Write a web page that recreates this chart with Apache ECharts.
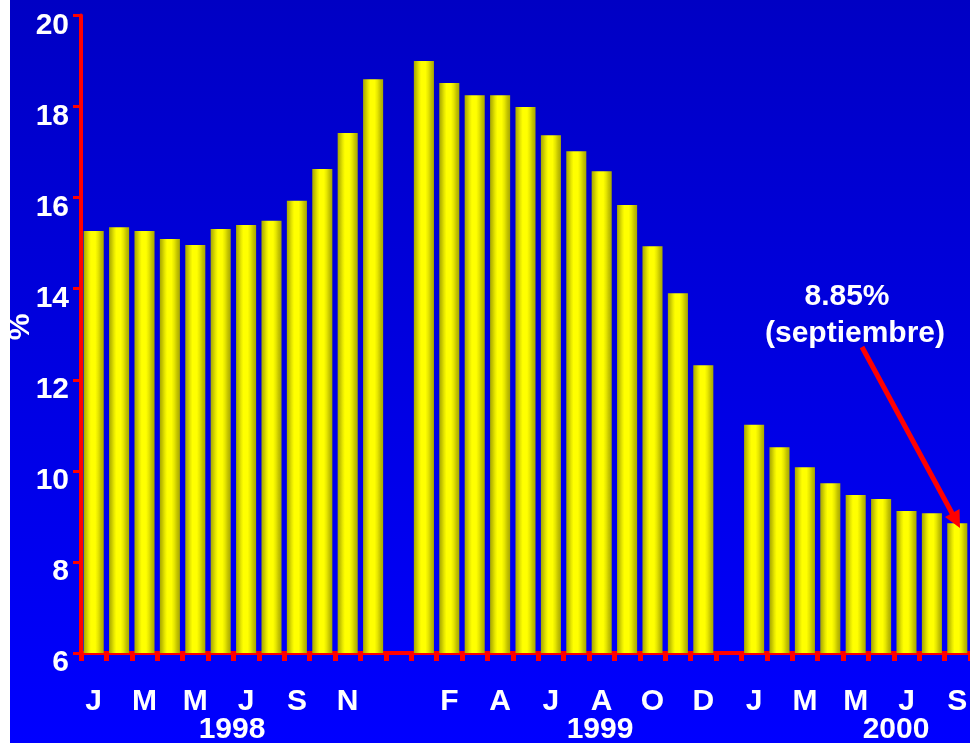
<!DOCTYPE html>
<html>
<head>
<meta charset="utf-8">
<script src="https://cdn.jsdelivr.net/npm/echarts@6/dist/echarts.min.js"></script>
<style>
html,body{margin:0;padding:0;background:#fff;}
#chart{width:970px;height:743px;}
</style>
</head>
<body>
<div id="chart"></div>
<script>
// Data
var values1998 = [15.27, 15.35, 15.27, 15.09, 14.96, 15.31, 15.40, 15.49, 15.93, 16.63, 17.42, 18.60];
var values1999 = [19.00, 18.52, 18.25, 18.25, 17.99, 17.37, 17.02, 16.58, 15.84, 14.93, 13.90, 12.32];
var values2000 = [11.01, 10.52, 10.08, 9.73, 9.47, 9.38, 9.12, 9.07, 8.85];
var months = ['J','F','M','A','M','J','J','A','S','O','N','D'];
var years = ['1998', '1999', '2000'];
var yTicks = [6, 8, 10, 12, 14, 16, 18, 20];
// which month letters are shown per year (index within year)
var shown1998 = [0, 2, 4, 6, 8, 10];
var shown1999 = [1, 3, 5, 7, 9, 11];
var shown2000 = [0, 2, 4, 6, 8];

var categories = [], values = [], tickLabels = [];
function addYear(y, vals, shown) {
  for (var i = 0; i < vals.length; i++) {
    categories.push(y + '-' + (i + 1));
    values.push(vals[i]);
    tickLabels.push(shown.indexOf(i) >= 0 ? months[i] : '');
  }
}
function addGap(k) { categories.push('gap' + k); values.push('-'); tickLabels.push(''); }
addYear('1998', values1998, shown1998);
addGap(1);
addYear('1999', values1999, shown1999);
addGap(2);
addYear('2000', values2000, shown2000);

var FONT = '"Liberation Sans", Arial, Helvetica, sans-serif';
var chart = echarts.init(document.getElementById('chart'), null, {renderer: 'canvas'});

var barGrad = {
  type: 'linear', x: 0, y: 0, x2: 1, y2: 0,
  colorStops: [
    {offset: 0, color: '#a8a800'},
    {offset: 0.12, color: '#c4c400'},
    {offset: 0.25, color: '#e8e800'},
    {offset: 0.36, color: '#ffff00'},
    {offset: 0.58, color: '#ffff00'},
    {offset: 0.72, color: '#e6e600'},
    {offset: 0.86, color: '#c2c200'},
    {offset: 1, color: '#a8a800'}
  ]
};

chart.setOption({
  animation: false,
  backgroundColor: {
    type: 'linear', x: 0, y: 0, x2: 0, y2: 1,
    colorStops: [{offset: 0, color: '#0000c4'}, {offset: 1, color: '#0000ff'}]
  },
  grid: {left: 81, right: 0, top: 15.5, bottom: 90, containLabel: false, outerBoundsMode: 'none'},
  xAxis: {
    type: 'category',
    data: categories,
    boundaryGap: true,
    axisLine: {lineStyle: {color: '#ff0000', width: 4}},
    axisTick: {show: true, interval: 0, length: 8, lineStyle: {color: '#ff0000', width: 5}},
    axisLabel: {
      interval: 0,
      margin: 34,
      color: '#ffffff',
      fontFamily: FONT,
      fontWeight: 'bold',
      fontSize: 30,
      formatter: function (v, i) { return tickLabels[i]; }
    },
    splitLine: {show: false}
  },
  yAxis: {
    type: 'value',
    min: yTicks[0],
    max: yTicks[yTicks.length - 1],
    interval: 2,
    axisLine: {show: true, lineStyle: {color: '#ff0000', width: 4}},
    axisTick: {show: true, length: 8, lineStyle: {color: '#ff0000', width: 3}},
    axisLabel: {
      margin: 12,
      color: '#ffffff',
      fontFamily: FONT,
      fontWeight: 'bold',
      fontSize: 30,
      verticalAlign: 'top',
      lineHeight: 20
    },
    splitLine: {show: false}
  },
  series: [{
    type: 'bar',
    data: values,
    barWidth: '79%',
    itemStyle: {color: barGrad},
    z: 1
  }],
  graphic: [
    {type: 'rect', left: 0, top: 0, shape: {width: 10, height: 743}, style: {fill: '#ffffff'}, z: -1},
    {type: 'text', x: 21, y: 327, rotation: Math.PI / 2, style: {text: '%', fill: '#ffffff', font: 'bold 30px ' + FONT, textAlign: 'center', textVerticalAlign: 'middle'}, z: 5},
    {type: 'text', x: 232, y: 730, style: {text: years[0], fill: '#ffffff', font: 'bold 30px ' + FONT, textAlign: 'center', textVerticalAlign: 'middle'}},
    {type: 'text', x: 600, y: 730, style: {text: years[1], fill: '#ffffff', font: 'bold 30px ' + FONT, textAlign: 'center', textVerticalAlign: 'middle'}},
    {type: 'text', x: 896, y: 730, style: {text: years[2], fill: '#ffffff', font: 'bold 30px ' + FONT, textAlign: 'center', textVerticalAlign: 'middle'}},
    {type: 'text', x: 847, y: 297, style: {text: '8.85%', fill: '#ffffff', font: 'bold 30px ' + FONT, textAlign: 'center', textVerticalAlign: 'middle'}},
    {type: 'text', x: 855, y: 334, style: {text: '(septiembre)', fill: '#ffffff', font: 'bold 30px ' + FONT, textAlign: 'center', textVerticalAlign: 'middle'}},
    {type: 'line', shape: {x1: 862, y1: 347, x2: 953, y2: 515}, style: {stroke: '#ff0000', lineWidth: 5}, z: 10},
    {type: 'polygon', shape: {points: [[960, 528], [959.5, 509], [945, 517]]}, style: {fill: '#ff0000'}, z: 10}
  ]
});
</script>
</body>
</html>
